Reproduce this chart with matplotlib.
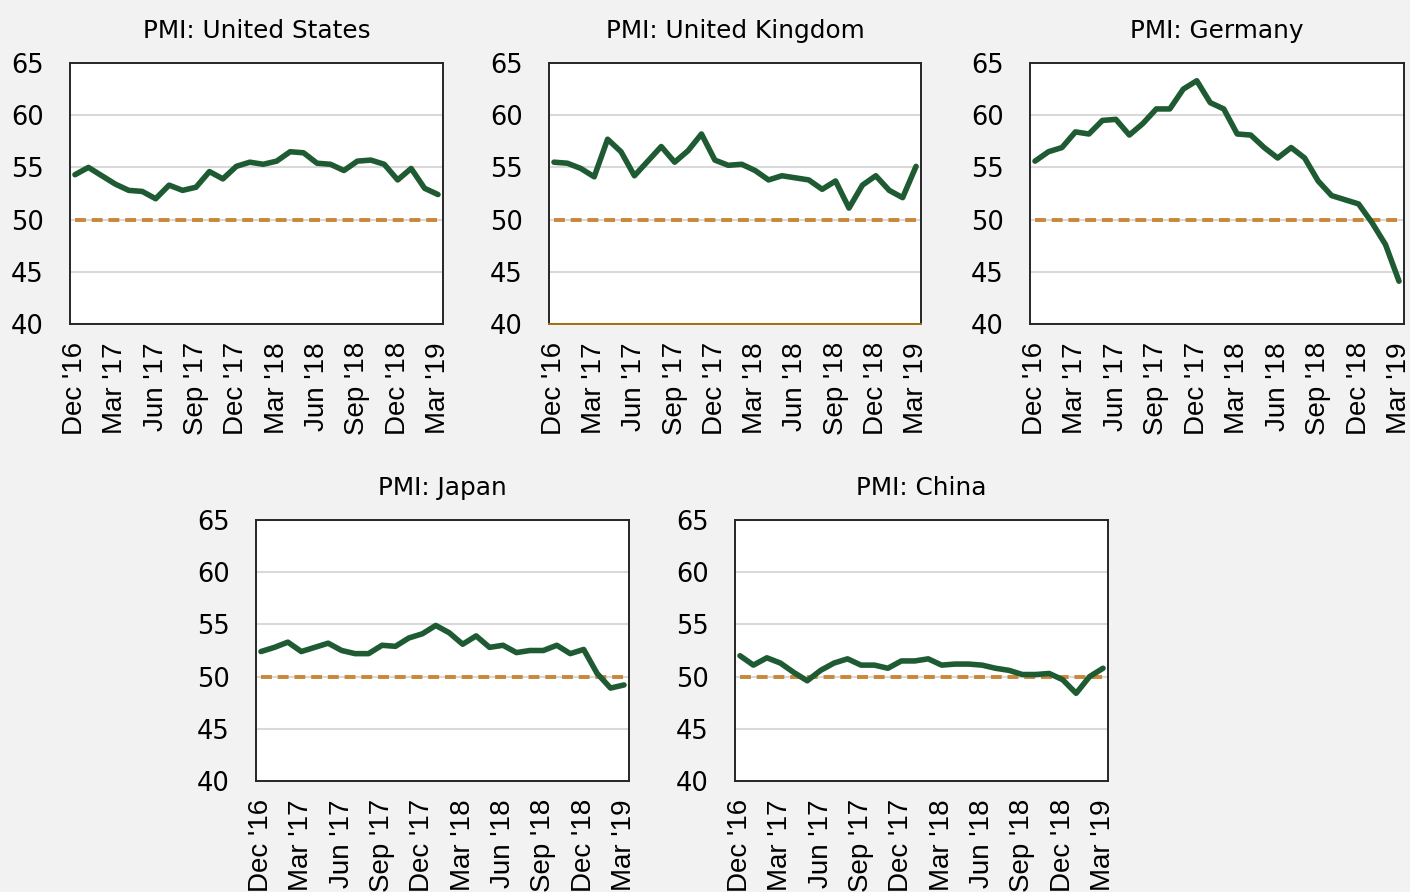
import matplotlib.pyplot as plt
import numpy as np

# monthly PMI readings, Dec '16 .. Mar '19
tick_labels = ["Dec '16", "Mar '17", "Jun '17", "Sep '17", "Dec '17",
               "Mar '18", "Jun '18", "Sep '18", "Dec '18", "Mar '19"]

us = [54.3, 55.0, 54.2, 53.4, 52.8, 52.7, 52.0, 53.3, 52.8, 53.1, 54.6, 53.9,
      55.1, 55.5, 55.3, 55.6, 56.5, 56.4, 55.4, 55.3, 54.7, 55.6, 55.7, 55.3,
      53.8, 54.9, 53.0, 52.4]
uk = [55.5, 55.4, 54.9, 54.1, 57.7, 56.5, 54.2, 55.6, 57.0, 55.5, 56.6, 58.2,
      55.7, 55.2, 55.3, 54.7, 53.8, 54.2, 54.0, 53.8, 52.9, 53.7, 51.1, 53.3,
      54.2, 52.8, 52.1, 55.1]
germany = [55.6, 56.5, 56.9, 58.4, 58.2, 59.5, 59.6, 58.1, 59.2, 60.6, 60.6, 62.5,
           63.3, 61.2, 60.6, 58.2, 58.1, 56.9, 55.9, 56.9, 55.9, 53.7, 52.3, 51.9,
           51.5, 49.7, 47.6, 44.1]
japan = [52.4, 52.8, 53.3, 52.4, 52.8, 53.2, 52.5, 52.2, 52.2, 53.0, 52.9, 53.7,
         54.1, 54.9, 54.2, 53.1, 53.9, 52.8, 53.0, 52.3, 52.5, 52.5, 53.0, 52.2,
         52.6, 50.3, 48.9, 49.2]
china = [52.0, 51.1, 51.8, 51.3, 50.4, 49.6, 50.6, 51.3, 51.7, 51.1, 51.1, 50.8,
         51.5, 51.5, 51.7, 51.1, 51.2, 51.2, 51.1, 50.8, 50.6, 50.2, 50.2, 50.3,
         49.7, 48.4, 50.0, 50.8]

titles = ['PMI: United States', 'PMI: United Kingdom', 'PMI: Germany',
          'PMI: Japan', 'PMI: China']
series = [us, uk, germany, japan, china]
threshold = 50

green = '#1F5B32'
orange = '#C9873A'

fig = plt.figure(figsize=(14.1, 8.92), dpi=100)
fig.patch.set_facecolor('#F2F2F2')

W, H = 1410, 892
# axes boxes in pixels: left, top, right, bottom
boxes = [(70, 63, 443, 324), (549, 63, 921, 324), (1030, 63, 1404, 324),
         (256, 520, 629, 781), (735, 520, 1108, 781)]

for i in range(len(series)):
    l, t, r, b = boxes[i]
    ax = fig.add_axes([l / W, 1 - b / H, (r - l) / W, (b - t) / H])
    vals = series[i]
    x = np.arange(len(vals))

    ax.set_facecolor('white')
    ax.set_ylim(40, 65)
    ax.set_xlim(-0.37, len(vals) - 1 + 0.37)
    ax.set_yticks([40, 45, 50, 55, 60, 65])
    ax.yaxis.grid(True, color='#D9D9D9', linewidth=1.5)
    ax.set_axisbelow(True)

    ax.plot(x, [threshold] * len(x), color=orange, linewidth=2.8,
            dashes=(2.8, 1.5), dash_capstyle='butt', zorder=2)
    ax.plot(x, vals, color=green, linewidth=4, solid_joinstyle='round',
            solid_capstyle='round', zorder=3)

    ax.set_xticks(x[::3])
    ax.set_xticklabels(tick_labels, rotation=90, fontsize=20,
                       family='Liberation Sans')
    ax.tick_params(axis='x', length=0, pad=13)
    ax.tick_params(axis='y', length=0, pad=19, labelsize=18.5)

    for s in ax.spines.values():
        s.set_color('#262626')
        s.set_linewidth(1.4)
    if i == 1:
        ax.spines['bottom'].set_color('#A0700A')

    ax.set_title(titles[i], fontsize=17.8, pad=18)

fig.savefig('out.png', dpi=100, facecolor=fig.get_facecolor())
